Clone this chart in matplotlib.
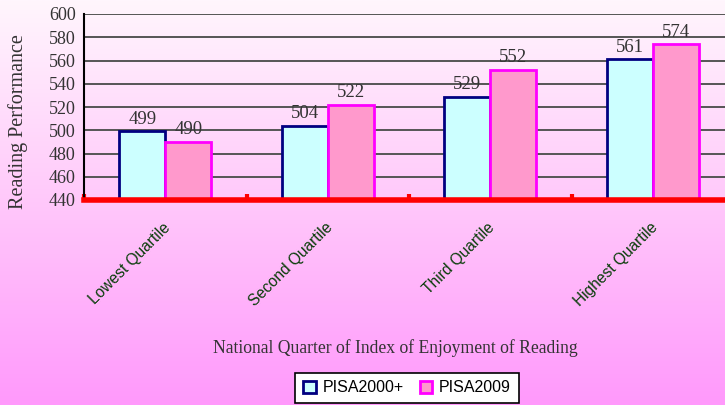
import matplotlib.pyplot as plt
import matplotlib.colors as mcolors
import numpy as np

# Chart data
categories = ["Lowest Quartile", "Second Quartile", "Third Quartile", "Highest Quartile"]
pisa2000 = [499, 504, 529, 561]
pisa2009 = [490, 522, 552, 574]
series_names = ["PISA2000+", "PISA2009"]
y_ticks = [440, 460, 480, 500, 520, 540, 560, 580, 600]

fig = plt.figure(figsize=(7.25, 4.05), dpi=100)

# Gradient background (white-pink at top to pink at bottom)
bg = fig.add_axes([0, 0, 1, 1], zorder=-10)
cmap = mcolors.LinearSegmentedColormap.from_list("bg", ["#fff6fd", "#ffc8fa", "#ff99fc"])
grad = np.linspace(0, 1, 256).reshape(-1, 1)
bg.imshow(grad, aspect="auto", cmap=cmap, extent=[0, 1, 0, 1], origin="upper")
bg.axis("off")

# Main axes extends a bit past the right edge like the original
ax = fig.add_axes([84 / 725, 205 / 405, 650 / 725, 186 / 405])
ax.patch.set_alpha(0)

x = np.arange(len(categories)) + 0.5
w = 0.283
ax.bar(x - w / 2, pisa2000, width=w, color="#ccffff", edgecolor="#000080",
       linewidth=2, label=series_names[0], zorder=3)
ax.bar(x + w / 2, pisa2009, width=w, color="#ff99cc", edgecolor="#ff00ff",
       linewidth=2, label=series_names[1], zorder=3)

# Value labels above bars
for xi, v in zip(x - w / 2, pisa2000):
    ax.text(xi, v + 3, str(v), ha="center", va="bottom", fontsize=13.5,
            family="Liberation Serif", color="#333333", zorder=4)
for xi, v in zip(x + w / 2, pisa2009):
    ax.text(xi, v + 3, str(v), ha="center", va="bottom", fontsize=13.5,
            family="Liberation Serif", color="#333333", zorder=4)

ax.set_xlim(0, 4)
ax.set_ylim(440, 600)
ax.set_yticks(y_ticks)
ax.set_yticklabels([str(t) for t in y_ticks], family="Liberation Serif", fontsize=13,
                   color="#333333")
ax.tick_params(axis="y", length=0, pad=6)
ax.yaxis.grid(True, color="#555555", linewidth=1.4, zorder=1)
ax.set_axisbelow(True)

# Red category axis with small upward tick marks at boundaries
ax.set_xticks([0, 1, 2, 3, 4])
ax.set_xticklabels([])
ax.tick_params(axis="x", direction="in", length=4, width=3, color="red")
for side in ["top", "right"]:
    ax.spines[side].set_visible(False)
ax.spines["bottom"].set_color("red")
ax.spines["bottom"].set_linewidth(4)
ax.spines["bottom"].set_zorder(5)
ax.spines["left"].set_color("black")
ax.spines["left"].set_linewidth(1.5)

# Category names, rotated 45 degrees
for xi, name in zip(x, categories):
    ax.annotate(name, xy=(xi, 440), xycoords="data", xytext=(-3, -20),
                textcoords="offset pixels", rotation=45, ha="right", va="top",
                rotation_mode="anchor", fontsize=11.2, family="Liberation Sans",
                color="#0a3d0a", annotation_clip=False)

fig.text(18 / 725, 1 - 122 / 405, "Reading Performance", rotation=90, ha="center",
         va="center", fontsize=14.5, family="Liberation Serif", color="#333333")
fig.text(395 / 725, 1 - 348 / 405, "National Quarter of Index of Enjoyment of Reading",
         ha="center", va="center", fontsize=12.7, family="Liberation Serif", color="#333333")

leg = fig.legend(loc="center", bbox_to_anchor=(407 / 725, 1 - 388 / 405), ncol=2,
                 frameon=True, fancybox=False, edgecolor="black", facecolor="white",
                 framealpha=1, prop={"family": "Liberation Sans", "size": 11.5},
                 handlelength=0.8, handleheight=0.8, handletextpad=0.4, columnspacing=1.0,
                 borderpad=0.5, borderaxespad=0)
leg.get_frame().set_linewidth(1.2)

fig.savefig("out.png", dpi=100)
